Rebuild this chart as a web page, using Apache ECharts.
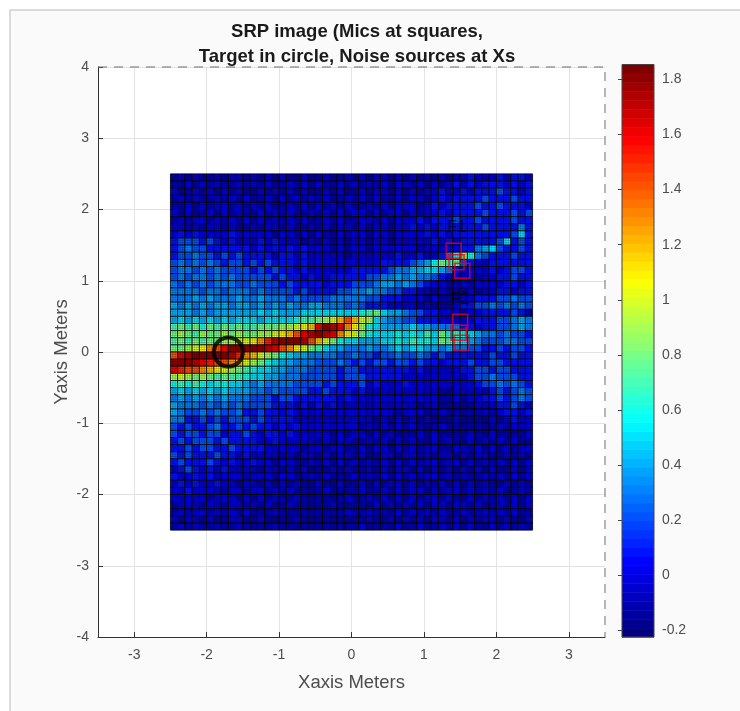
<!DOCTYPE html>
<html><head><meta charset="utf-8">
<style>html,body{margin:0;padding:0;background:#fff}#c{width:740px;height:711px}</style>
<script src="https://cdn.jsdelivr.net/npm/echarts@6/dist/echarts.min.js"></script>
</head><body><div id="c"></div>
<script>
// Estimated SRP levels: each character is a base-36 level, value = -0.2 + 0.1*level.
// Rows run from y=2.45 (top) to y=-2.45, columns from x=-2.45 to x=2.45.
const srpRows = [
"12121121221212121121121121212212121212122322232332",
"11212121121212112121211212121212212121232323332323",
"21121212121121212121121211212212121223223233343323",
"12121121212112121212121121212112122123233334333433",
"11212122121212112121212121121212221232333343343332",
"21211212121121212112121212212122121223233334333434",
"12122121212121212121121211221212223233343343333433",
"22121221211212212112121221212212232323333334333353",
"23232222322222122121211212212212222323233333333473",
"34443432322232322212121212212212222232323333347343",
"34544333333232323232221212212222221222223356743343",
"34454434343333233232222212222223223223 58b854333433".replace(" ",""),
"45454543443434333232222222222333345 68a9a4322333333".replace(" ",""),
"45545454444343433232222223333345566776532222323443",
"45455454544444343323223333344556565543222212233433",
"54545455544544434333323334445665654322112122223323",
"55554554555454444343333445565544332212111212233233",
"55565655565565554544445555544333222121112233344544",
"65656566566565656556655545433322221211123344545454",
"66656566666676766677777777 89a76654433222122333343".replace(" ",""),
"67676767677767777899abcegecb765544333222223334 4565".replace(" ",""),
"9a9a8a9a9a99aaabbcdeikjifdb87666676655553323344565",
"aba9baababaabbcdegijkjifdca8777878797a898765545443",
"9a9a9aabbccdfhjkkkjgeca87766677879887a987654445544",
"aabcdfgikkkkkjigfdca97665556556767766565 5443343443".replace(" ",""),
"gijkkkkkjhfecba87665555445443445445434333333433433",
"kkkjihggfecba87665554445434344344343323334 33443333".replace(" ",""),
"ihggfedcba98776655544443443333333232222 23344344333".replace(" ",""),
"bcbaba9a998776655544444344433333222222222344544433",
"89898788776565555444434333423222322222222234454543",
"67676767666554544443343332322222222221122222343454 4".replace(" ","").slice(0,50),
"56565656555444344333333232222222222221121223343454",
"65554545454444333232323222222222221221111122233432",
"65445454453343323222222222222221222112111112123323",
"55334343444343333222222222221212121211121111212322",
"43433453343433232322222222121212121112111111121222",
"43443442334323323222221212212121112121111211211112",
"34344434333322322222121221121212121121211212121211",
"33434433433332222212212211212212121221122121212122",
"43433343323222212122121221211221221212212122112121",
"34333432322322122112121212121212121221221212121212",
"23432323222212212121112121121212212121212121211212",
"32232322221222122112121112121212121221212112121212",
"23232232212212121211211211212122121212121212112121",
"22322221221221212111121111211212122121221212121121 2".replace(" ","").slice(0,50),
"22222122212121211211111121121212121221211212121212",
"12221221221212112111112111112121212122122121121212",
"12122121212111211111111121121112121212112112121211 2".replace(" ","").slice(0,50),
"21221211221121111211111111121121212122121212212112",
"12121121121111211111111111211112112112121211212121"
];
const cellSize = 0.1;
const gridStartX = -2.45;
const gridStartY = 2.45;
const micsX = [1.41, 1.45, 1.53, 1.50, 1.48, 1.52];
const micsY = [1.42, 1.26, 1.14, 0.425, 0.27, 0.13];
const targetX = [-1.70];
const targetY = [0.0];
const noteLabels = ["F1", "F2"];
const noteX = [1.45, 1.50];
const noteY = [1.74, 0.74];
const barTicks = [-0.2, 0, 0.2, 0.4, 0.6, 0.8, 1, 1.2, 1.4, 1.6, 1.8];
const xTicks = [-3, -2, -1, 0, 1, 2, 3];
const cMin = -0.224, cMax = 1.854, cSteps = 64;

const clamp = v => Math.max(0, Math.min(1, v));
function jet(v) {
  let k = Math.floor((v - cMin) / (cMax - cMin) * cSteps);
  k = Math.max(0, Math.min(cSteps - 1, k));
  const t = k / (cSteps - 1);
  const r = clamp(1.5 - Math.abs(4 * t - 3)), g = clamp(1.5 - Math.abs(4 * t - 2)), b = clamp(1.5 - Math.abs(4 * t - 1));
  return `rgb(${Math.round(r * 255)},${Math.round(g * 255)},${Math.round(b * 255)})`;
}
const cells = [];
srpRows.forEach((row, r) => {
  for (let c = 0; c < 50; c++) {
    const lv = parseInt(row[c] || '1', 36);
    cells.push([gridStartX + c * cellSize, gridStartY - r * cellSize, -0.2 + 0.1 * lv]);
  }
});
const barData = [];
for (let i = 0; i < cSteps; i++) barData.push(cMin + (i + 0.5) * (cMax - cMin) / cSteps);

const font = 'Liberation Sans';
const tickColor = '#4d4d4d';
const axisCommon = {
  type: 'value',
  axisLine: { show: true, onZero: false, lineStyle: { color: '#333', width: 1 } },
  axisTick: { show: true, inside: true, length: 5, lineStyle: { color: '#333' } },
  splitLine: { show: true, lineStyle: { color: '#e3e3e3', width: 1 } },
  nameLocation: 'middle',
  nameMoveOverlap: false,
  nameTextStyle: { fontFamily: font, fontSize: 18.5, color: tickColor }
};
const meshStyle = { stroke: 'rgba(0,0,0,0.2)', lineWidth: 1 };
const chart = echarts.init(document.getElementById('c'), null, { renderer: 'canvas' });
chart.setOption({
  animation: false,
  backgroundColor: '#fff',
  textStyle: { fontFamily: font },
  title: {
    text: 'SRP image (Mics at squares,\nTarget in circle, Noise sources at Xs',
    left: 352, top: 14, textAlign: 'center',
    textStyle: { fontFamily: font, fontSize: 18.5, fontWeight: 'bold', color: '#1a1a1a', lineHeight: 25 }
  },
  graphic: [{ type: 'rect', z: -10, shape: { x: 10, y: 10, width: 740, height: 711 },
    style: { fill: '#fafafa', stroke: '#cfcfcf', lineWidth: 1.5 } }],
  grid: [
    { left: 98, top: 67, width: 507, height: 570, show: true, backgroundColor: '#fff', borderWidth: 0 },
    { left: 622, top: 64.5, width: 32, height: 572.5, show: false }
  ],
  xAxis: [
    Object.assign({}, axisCommon, { gridIndex: 0, min: -3.5, max: 3.5, name: 'Xaxis Meters', nameGap: 36,
      axisTick: Object.assign({}, axisCommon.axisTick, { customValues: xTicks }),
      axisLabel: { customValues: xTicks, color: tickColor, fontSize: 14, margin: 11, fontFamily: font } }),
    { type: 'value', gridIndex: 1, min: 0, max: 1, show: false }
  ],
  yAxis: [
    Object.assign({}, axisCommon, { gridIndex: 0, min: -4, max: 4, interval: 1, name: 'Yaxis Meters', nameGap: 27,
      axisLabel: { color: tickColor, fontSize: 14, margin: 9, fontFamily: font, padding: [2, 0, 0, 0] } }),
    { type: 'value', gridIndex: 1, min: cMin, max: cMax, position: 'right',
      axisLine: { show: true, lineStyle: { color: '#444' } },
      axisTick: { show: true, inside: true, length: 4, customValues: barTicks, lineStyle: { color: '#444' } },
      axisLabel: { customValues: barTicks, color: tickColor, fontSize: 14, margin: 8, fontFamily: font, padding: [3, 0, 0, 0] },
      splitLine: { show: false } }
  ],
  series: [
    { type: 'line', xAxisIndex: 0, yAxisIndex: 0, z: 1, symbol: 'none', clip: false, silent: true,
      lineStyle: { color: '#6e6e6e', width: 1, type: [9, 7] },
      data: [[-3.5, 4], [3.5, 4], [3.5, -4]] },
    { type: 'custom', xAxisIndex: 0, yAxisIndex: 0, z: 2, progressive: 0, silent: true,
      data: cells, encode: { x: 0, y: 1 },
      renderItem(p, api) {
        const a = api.coord([api.value(0) - cellSize / 2, api.value(1) + cellSize / 2]);
        const s = api.size([cellSize, cellSize]);
        const ch = [{ type: 'rect', shape: { x: a[0], y: a[1], width: s[0], height: s[1] },
          style: { fill: jet(api.value(2)), stroke: 'rgba(0,0,0,0.8)', lineWidth: 1 } }];
        for (const f of [1 / 3, 2 / 3]) {
          ch.push({ type: 'line', shape: { x1: a[0] + s[0] * f, y1: a[1], x2: a[0] + s[0] * f, y2: a[1] + s[1] }, style: meshStyle });
          ch.push({ type: 'line', shape: { x1: a[0], y1: a[1] + s[1] * f, x2: a[0] + s[0], y2: a[1] + s[1] * f }, style: meshStyle });
        }
        return { type: 'group', children: ch };
      } },
    { type: 'scatter', xAxisIndex: 0, yAxisIndex: 0, z: 3, symbol: 'rect', symbolSize: 15, silent: true,
      itemStyle: { color: 'rgba(0,0,0,0)', borderColor: '#e0002c', borderWidth: 1.5 },
      data: micsX.map((x, i) => [x, micsY[i]]) },
    { type: 'scatter', xAxisIndex: 0, yAxisIndex: 0, z: 4, symbol: 'circle', symbolSize: 29, silent: true,
      itemStyle: { color: 'rgba(0,0,0,0)', borderColor: '#000', borderWidth: 4 },
      data: targetX.map((x, i) => [x, targetY[i]]) },
    { type: 'scatter', xAxisIndex: 0, yAxisIndex: 0, z: 3, symbolSize: 0, silent: true,
      label: { show: true, position: 'inside', formatter: p => noteLabels[p.dataIndex], color: 'rgba(0,0,0,0.8)', fontSize: 16, fontFamily: font },
      data: noteX.map((x, i) => [x, noteY[i]]) },
    { type: 'custom', xAxisIndex: 1, yAxisIndex: 1, z: 2, progressive: 0, silent: true,
      data: barData.map(v => [0, v]), encode: { x: 0, y: 1 },
      renderItem(p, api) {
        const h = (cMax - cMin) / cSteps, v = api.value(1);
        const a = api.coord([0, v + h / 2]), s = api.size([1, h]);
        return { type: 'rect', shape: { x: a[0], y: a[1], width: s[0], height: s[1] + 0.5 },
          style: { fill: jet(v) } };
      } },
    { type: 'line', xAxisIndex: 1, yAxisIndex: 1, z: 3, symbol: 'none', clip: false, silent: true,
      lineStyle: { color: '#444', width: 1 },
      data: [[0, cMin], [0, cMax], [1, cMax], [1, cMin], [0, cMin]] }
  ]
});
</script></body></html>
